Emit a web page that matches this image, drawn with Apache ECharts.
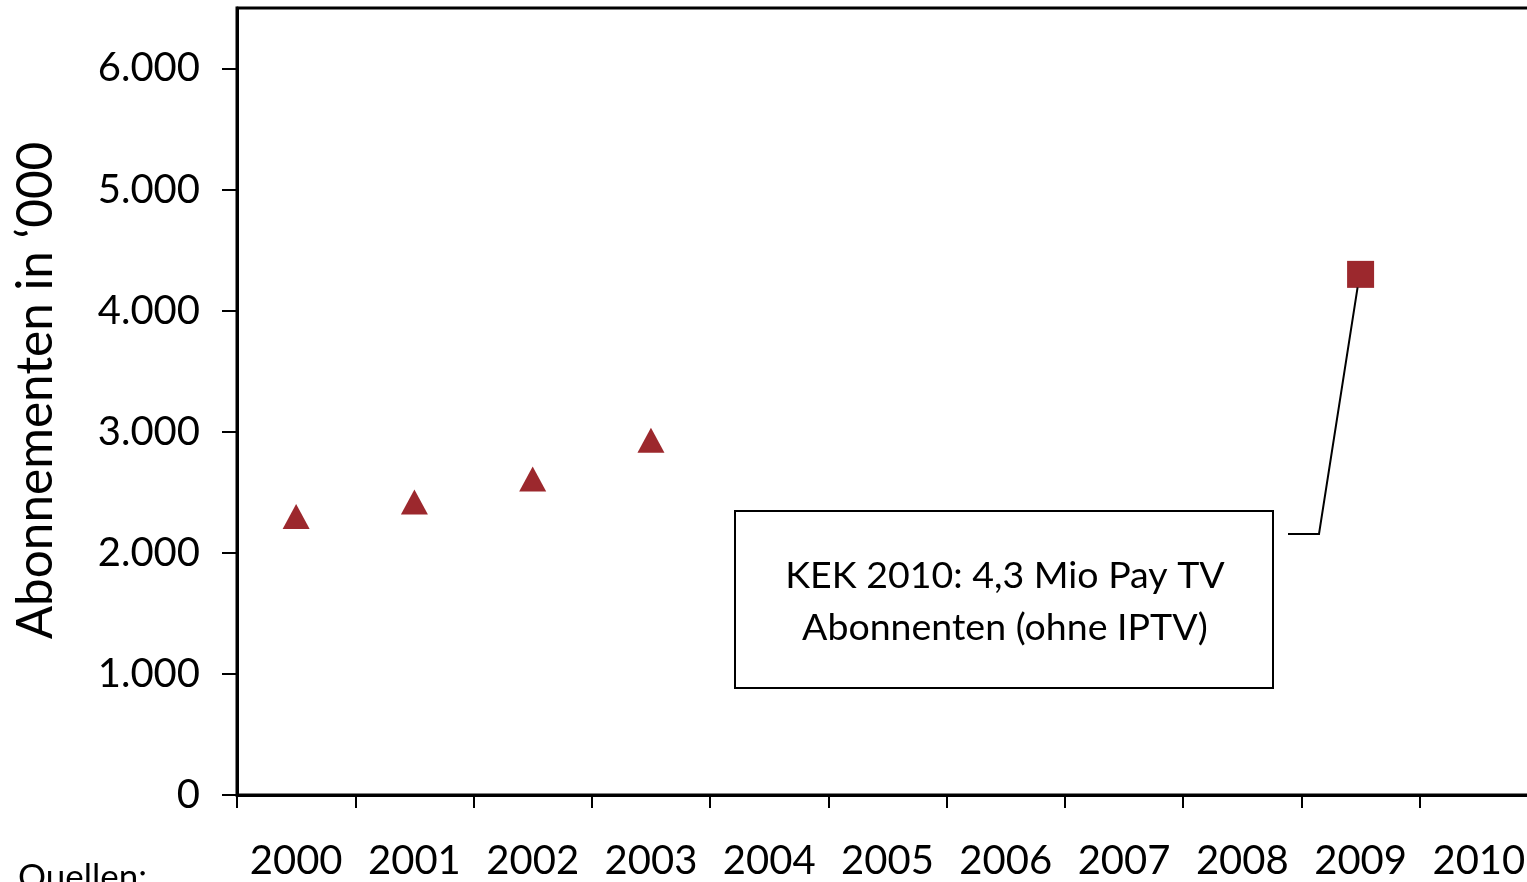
<!DOCTYPE html>
<html><head><meta charset="utf-8">
<script src="https://cdn.jsdelivr.net/npm/echarts@6/dist/echarts.min.js"></script>
<style>html,body{margin:0;padding:0;background:#fff;overflow:hidden}#c{width:1527px;height:882px;}</style>
</head><body><div id="c"></div>
<script>
const years = ['2000','2001','2002','2003','2004','2005','2006','2007','2008','2009','2010'];
const triangleValues = [2300, 2420, 2610, 2930, null, null, null, null, null, null, null];
const squareValues = [null, null, null, null, null, null, null, null, null, 4300, null];
const yTicks = [0, 1000, 2000, 3000, 4000, 5000, 6000];
const yAxisTitle = 'Abonnementen in \u2018000';
const calloutLines = ['KEK 2010: 4,3 Mio Pay TV', 'Abonnenten (ohne IPTV)'];
const sourceLabel = 'Quellen:';

const FONT = 'Lato';
const RED = '#9c282d';
const chart = echarts.init(document.getElementById('c'), null, {renderer: 'canvas'});
function fmt(v){ return String(v).replace(/\B(?=(\d{3})+(?!\d))/g, '.'); }

chart.setOption({
  animation: false,
  backgroundColor: '#fff',
  grid: {left: 237, top: 8, width: 1301, height: 787, outerBoundsMode: 'none', containLabel: false, show: true, borderColor: '#000', borderWidth: 3, backgroundColor: 'transparent'},
  xAxis: {
    type: 'category', data: years, boundaryGap: true,
    axisLine: {lineStyle: {color: '#000', width: 3}},
    axisTick: {show: true, length: 13, alignWithLabel: false, lineStyle: {color: '#000', width: 2}},
    axisLabel: {color: '#000', fontFamily: FONT, fontSize: 40, margin: 46, interval: 0},
    splitLine: {show: false}
  },
  yAxis: {
    type: 'value', min: 0, max: 6500, interval: 1000,
    name: yAxisTitle, nameLocation: 'middle', nameGap: 176, nameRotate: 90,
    nameTextStyle: {color: '#000', fontFamily: FONT, fontSize: 49.5, padding: [0, 0, 0, 22]},
    axisLine: {show: true, lineStyle: {color: '#000', width: 3}},
    axisTick: {show: true, length: 15, customValues: yTicks, lineStyle: {color: '#000', width: 2}},
    axisLabel: {color: '#000', fontFamily: FONT, fontSize: 40, margin: 37, customValues: yTicks, formatter: v => fmt(v)},
    splitLine: {show: false}
  },
  series: [
    {type: 'scatter', data: triangleValues, symbol: 'triangle', symbolSize: [27, 25], itemStyle: {color: RED, opacity: 1}},
    {type: 'scatter', data: squareValues, symbol: 'rect', symbolSize: [27, 27], itemStyle: {color: RED, opacity: 1}}
  ]
});

const p = chart.convertToPixel({gridIndex: 0}, [years[9], squareValues[9]]);
const box = {x: 735, y: 511, w: 538, h: 177};
chart.setOption({
  graphic: [
    {type: 'polyline', z: 5, shape: {points: [[p[0] - 3, p[1] + 13], [box.x + box.w + 46, box.y + 23], [box.x + box.w + 15, box.y + 23]]}, style: {stroke: '#000', lineWidth: 2, fill: null}},
    {type: 'rect', z: 5, shape: {x: box.x, y: box.y, width: box.w, height: box.h}, style: {stroke: '#000', lineWidth: 2, fill: '#fff'}},
    {type: 'text', z: 6, x: box.x + box.w / 2 + 1, y: box.y + box.h / 2 + 2, style: {text: calloutLines.join('\n'), font: '37.5px ' + FONT, lineHeight: 52, fill: '#000', align: 'center', verticalAlign: 'middle'}},
    {type: 'text', z: 6, x: 18, y: 860, style: {text: sourceLabel, font: '35px ' + FONT, fill: '#000', align: 'left', verticalAlign: 'top'}}
  ]
});
</script></body></html>
